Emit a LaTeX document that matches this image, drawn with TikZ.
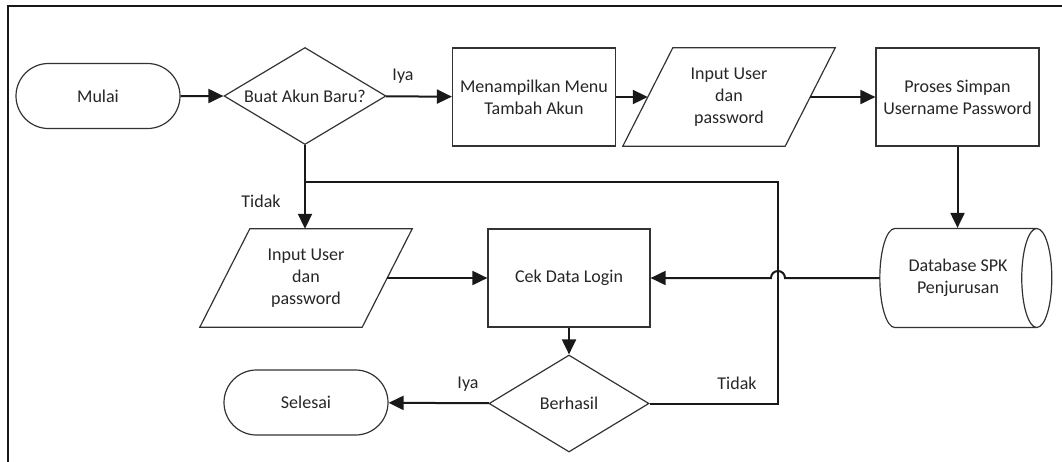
\documentclass[tikz,border=0pt]{standalone}
\usepackage{fontspec}
\setmainfont{Carlito}
\usetikzlibrary{shapes.geometric,shapes.misc,arrows.meta,calc}

\begin{document}
\begin{tikzpicture}[x=1pt,y=1pt,
  every node/.style={font=\fontsize{18}{22}\selectfont, text=black!85},
  shp/.style={draw=black!80, line width=1.2pt},
  term/.style={shp, rounded rectangle, minimum width=164pt, minimum height=65pt, inner sep=0},
  proc/.style={shp, rectangle, minimum width=163pt, minimum height=98pt, inner sep=0, align=center},
  dec/.style={shp, diamond, inner sep=0},
  iobox/.style={rectangle, minimum width=162pt, minimum height=98pt, inner sep=0, align=center},
  store/.style={shp, cylinder, shape border rotate=0, minimum height=172pt, minimum width=99pt, aspect=0.8, inner sep=0, align=center},
  flow/.style={draw=black!90, line width=2pt, -{Triangle[length=15pt,width=14pt]}},
  link/.style={draw=black!90, line width=2pt},
  lbl/.style={inner sep=0}
]
\useasboundingbox (0,0) rectangle (1062,-461);
% outer frame
\draw[line width=2pt, black!90] (8,-6) rectangle (1080,-480);

% nodes
\node[term] (start) at (98,-96) {Mulai};
\node[dec, minimum width=162pt, minimum height=97pt, label={center:Buat Akun Baru?}] (newacc) at (305,-96) {};
\node[proc] (menu) at (534,-97) {Menampilkan Menu\\Tambah Akun};
\node[iobox] (inA) at (729,-97) {Input User\\dan\\password};
\node[proc] (save) at (957.5,-97) {Proses Simpan\\Username Password};
\node[store] (db) at (958,-278) {Database SPK\\Penjurusan};
\node[iobox] (inB) at (306,-278) {Input User\\dan\\password};
\node[proc, minimum width=162pt] (cek) at (569,-278) {Cek Data Login};
\node[dec, minimum width=160pt, minimum height=97pt, label={center:Berhasil}] (ok) at (569,-403.5) {};
\node[term] (stop) at (306,-402.5) {Selesai};

% input/output parallelograms
\foreach \n in {inA,inB}{
  \draw[shp] ([xshift=-25pt]\n.south west) -- ([xshift=25pt]\n.north west)
    -- ([xshift=25pt]\n.north east) -- ([xshift=-25pt]\n.south east) -- cycle;
}

% routing points
\coordinate (j) at (newacc.south |- 0,-182);
\coordinate (k) at (778,-182);

% connectors
\draw[flow] (start) -- (newacc);
\draw[flow] (newacc) -- (menu);
\draw[flow] (menu) -- (inA);
\draw[flow] (inA) -- (save);
\draw[flow] (save.south) -- (save.south |- db.north);
\draw[flow] (newacc.south) -- (newacc.south |- inB.north);
\draw[flow] (inB) -- (cek);
\draw[flow] (db.west) -- ([xshift=7pt]db.west -| k) arc[start angle=0, end angle=180, radius=7pt] -- (cek.east);
\draw[flow] (cek) -- (ok);
\draw[flow] (ok) -- (stop);
\draw[link] (ok.east) -- (ok.east -| k) -- (k) -- (j);

% branch labels
\node[lbl] at (403,-76) {Iya};
\node[lbl] at (261,-201) {Tidak};
\node[lbl] at (737,-383) {Tidak};
\node[lbl] at (468,-384) {Iya};
\end{tikzpicture}
\end{document}
